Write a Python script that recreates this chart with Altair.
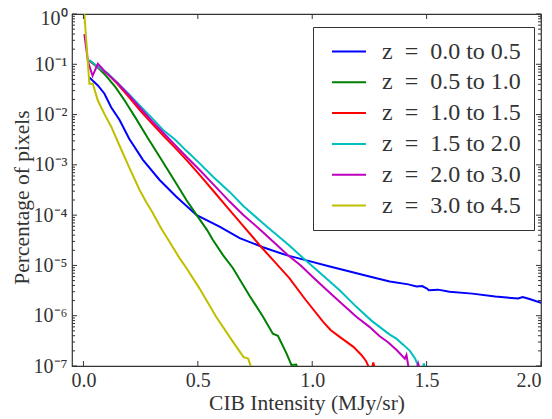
import altair as alt
import pandas as pd

# ---------------- data ----------------
series_names = [
    "z\u2002=\u20020.0 to 0.5",
    "z\u2002=\u20020.5 to 1.0",
    "z\u2002=\u20021.0 to 1.5",
    "z\u2002=\u20021.5 to 2.0",
    "z\u2002=\u20022.0 to 3.0",
    "z\u2002=\u20023.0 to 4.5",
]
series_colors = ["#0000ff", "#008000", "#ff0000", "#00bfbf", "#bf00bf", "#bfbf00"]

blue_x = [0.026, 0.041, 0.063, 0.092, 0.121, 0.158, 0.2, 0.26, 0.333, 0.405, 0.495, 0.595,
          0.683, 0.785, 0.887, 0.975, 1.077, 1.164, 1.25, 1.339, 1.42, 1.456,
          1.48, 1.50, 1.51, 1.55, 1.60, 1.7, 1.8, 1.85, 1.9, 1.92, 1.95, 2.0]
blue_y = [5.5e-2, 4.7e-2, 3.8e-2, 2.6e-2, 1.4e-2, 7.8e-3, 3.3e-3, 1.26e-3, 5.0e-4, 2.35e-4,
          1.0e-4, 5.9e-5, 3.5e-5, 2.3e-5, 1.6e-5, 1.26e-5, 9.5e-6, 7.6e-6,
          6.0e-6, 4.8e-6, 4.2e-6, 3.8e-6, 3.9e-6, 3.5e-6, 3.2e-6, 3.3e-6, 3.0e-6, 2.75e-6,
          2.4e-6, 2.3e-6, 2.2e-6, 2.35e-6, 2.15e-6, 1.8e-6]

green_x = [0.026, 0.06, 0.099, 0.14, 0.18, 0.23, 0.28, 0.333, 0.405, 0.45, 0.495, 0.54,
           0.566, 0.61, 0.653, 0.726, 0.785, 0.828, 0.85, 0.887, 0.909, 0.93, 0.94]
green_y = [1.2e-1, 8.9e-2, 5.9e-2, 3.5e-2, 1.9e-2, 8.3e-3, 3.5e-3, 1.45e-3, 4.3e-4, 2.0e-4,
           1.0e-4, 5.1e-5, 3.2e-5, 1.6e-5, 8.9e-6, 2.5e-6, 9.5e-7, 4.4e-7, 4.0e-7, 1.8e-7,
           1.05e-7, 1.07e-7, 8e-8]

red_x = [0.026, 0.045, 0.063, 0.106, 0.15, 0.2, 0.25, 0.3, 0.35, 0.4, 0.45, 0.508, 0.57,
         0.639, 0.7, 0.778, 0.84, 0.9, 0.97, 1.047, 1.08, 1.12, 1.18, 1.215, 1.235, 1.245,
         1.258, 1.267, 1.276]
red_y = [1.17e-1, 1.0e-1, 8.7e-2, 6.5e-2, 4.0e-2, 2.2e-2, 1.17e-2, 6.6e-3, 3.8e-3, 2.2e-3,
         1.26e-3, 6.3e-4, 2.95e-4, 1.26e-4, 6.0e-5, 2.3e-5, 1.12e-5, 5.6e-6, 2.1e-6, 7.6e-7,
         5.2e-7, 3.8e-7, 2.4e-7, 1.66e-7, 1.26e-7, 1.0e-7, 8e-8, 1.17e-7, 8e-8]

cyan_x = [0.026, 0.063, 0.106, 0.15, 0.2, 0.25, 0.3, 0.347, 0.4, 0.45, 0.508, 0.57, 0.639,
          0.7, 0.8, 0.9, 0.96, 1.047, 1.12, 1.193, 1.26, 1.339, 1.368, 1.4, 1.427, 1.45,
          1.463, 1.47, 1.48, 1.488, 1.496]
cyan_y = [1.2e-1, 8.9e-2, 6.6e-2, 4.2e-2, 2.5e-2, 1.45e-2, 8.5e-3, 5.0e-3, 3.2e-3, 1.9e-3,
          1.07e-3, 5.6e-4, 2.9e-4, 1.5e-4, 6.0e-5, 2.5e-5, 1.4e-5, 6.3e-6, 3.2e-6, 1.5e-6,
          7.9e-7, 4.2e-7, 3.5e-7, 2.6e-7, 2.0e-7, 1.4e-7, 1.0e-7, 8e-8, 8e-8, 1.12e-7, 8e-8]

magenta_x = [0.004, 0.02, 0.04, 0.063, 0.099, 0.15, 0.2, 0.25, 0.3, 0.35, 0.4, 0.45, 0.508,
             0.57, 0.639, 0.7, 0.78, 0.894, 0.95, 1.0, 1.047, 1.12, 1.193, 1.25, 1.295, 1.33,
             1.368, 1.405, 1.412, 1.42, 1.43, 1.455, 1.463, 1.472]
magenta_y = [4.0e-1, 1.12e-1, 5.9e-2, 1.02e-1, 6.8e-2, 4.2e-2, 2.4e-2, 1.32e-2, 7.4e-3,
             4.3e-3, 2.5e-3, 1.45e-3, 7.9e-4, 4.0e-4, 1.86e-4, 1.0e-4, 4.8e-5, 1.6e-5,
             1.0e-5, 6.0e-6, 3.8e-6, 1.9e-6, 9.5e-7, 6.0e-7, 3.9e-7, 3.0e-7, 2.1e-7, 1.4e-7,
             1.66e-7, 1.0e-7, 8e-8, 8e-8, 1.12e-7, 8e-8]

yellow_x = [0.004, 0.026, 0.041, 0.063, 0.092, 0.121, 0.158, 0.2, 0.245, 0.273, 0.3, 0.34,
            0.366, 0.42, 0.45, 0.507, 0.58, 0.65, 0.7, 0.72, 0.735]
yellow_y = [1.0, 4.1e-2, 4.1e-2, 1.9e-2, 1.02e-2, 5.8e-3, 2.4e-3, 8.9e-4, 3.2e-4, 1.86e-4,
            1.17e-4, 5.4e-5, 3.5e-5, 1.4e-5, 8.9e-6, 3.5e-6, 9.5e-7, 3.2e-7, 1.5e-7, 1.4e-7,
            8.9e-8]

x_ticks = [0.0, 0.5, 1.0, 1.5, 2.0]
y_ticks = [1e-7, 1e-6, 1e-5, 1e-4, 1e-3, 1e-2, 1e-1, 1.0]
y_tick_labels = ["10⁻⁷", "10⁻⁶", "10⁻⁵", "10⁻⁴", "10⁻³", "10⁻²", "10⁻¹", "10⁰"]
y_minor = [k * 10.0 ** e for e in range(-7, 0) for k in range(2, 10)]

# ---------------- build tables ----------------
all_series = [
    (blue_x, blue_y), (green_x, green_y), (red_x, red_y),
    (cyan_x, cyan_y), (magenta_x, magenta_y), (yellow_x, yellow_y),
]
rows = []
for name, (xs, ys) in zip(series_names, all_series):
    for i, (a, b) in enumerate(zip(xs, ys)):
        rows.append({"series": name, "x": a, "y": b, "i": i})
df = pd.DataFrame(rows)

W, H = 469, 352
FONT = "Liberation Serif"
INK = "#333333"

xscale = alt.Scale(domain=[-0.05, 2.0], nice=False, zero=False)
yscale = alt.Scale(type="log", domain=[1e-7, 1.0], nice=False)

y_label_expr = ("[" + ",".join(f"'{l}'" for l in reversed(y_tick_labels)) +
                "][round(-log(datum.value)/LN10)]")

x_axis = alt.Axis(values=x_ticks, format=".1f", title="CIB Intensity (MJy/sr)",
                  ticks=False, domain=False, grid=False, labelPadding=4, titlePadding=2)
y_axis = alt.Axis(values=y_ticks, labelExpr=y_label_expr, title="Percentage of pixels",
                  ticks=False, domain=False, grid=False, labelPadding=5,
                  titleX=-50, titleY=183, titleBaseline="middle", titleAngle=270,
                  labelOffset={"condition": {"test": "datum.value >= 0.5", "value": 4},
                               "value": 0})

lines = alt.Chart(df).mark_line(strokeWidth=2, clip=True).encode(
    x=alt.X("x:Q", scale=xscale, axis=x_axis),
    y=alt.Y("y:Q", scale=yscale, axis=y_axis),
    color=alt.Color("series:N", sort=series_names,
                    scale=alt.Scale(domain=series_names, range=series_colors),
                    legend=alt.Legend(title=None, orient="none", legendX=241, legendY=13)),
    order="i:Q",
)

xt = pd.DataFrame({"x": x_ticks})
ymaj = pd.DataFrame({"y": y_ticks})
ymin = pd.DataFrame({"y": y_minor})

def xrule(y1, y2):
    return alt.Chart(xt).mark_rule(color=INK, strokeWidth=1).encode(
        x=alt.X("x:Q", scale=xscale, axis=x_axis), y=alt.value(y1), y2=alt.value(y2))

def yrule(d, x1, x2):
    return alt.Chart(d).mark_rule(color=INK, strokeWidth=1).encode(
        y=alt.Y("y:Q", scale=yscale, axis=y_axis), x=alt.value(x1), x2=alt.value(x2))

ticks = [
    xrule(H, H - 5), xrule(0, 5),
    yrule(ymaj, 0, 5), yrule(ymaj, W, W - 5),
    yrule(ymin, 0, 3), yrule(ymin, W, W - 3),
]

chart = alt.layer(lines, *ticks).properties(
    width=W, height=H,
    autosize=alt.AutoSizeParams(type="none"),
    padding={"left": 64, "top": 6, "right": 3, "bottom": 50},
).configure_view(
    stroke=INK, strokeWidth=1.2
).configure_axis(
    labelFont=FONT, titleFont=FONT, labelFontSize=20, titleFontSize=21.5,
    labelColor=INK, titleColor=INK, titleFontWeight="normal",
).configure_legend(
    labelFont=FONT, labelFontSize=24, labelColor=INK,
    strokeColor=INK, fillColor="white", padding=12.5, cornerRadius=0,
    symbolType="M-4,0H4", symbolSize=72.25, symbolStrokeWidth=2,
    symbolOffset=11.5, labelOffset=21, rowPadding=6.8, symbolOpacity=1,
)

chart.save("out.html", embed_options={"renderer": "svg", "actions": False})
